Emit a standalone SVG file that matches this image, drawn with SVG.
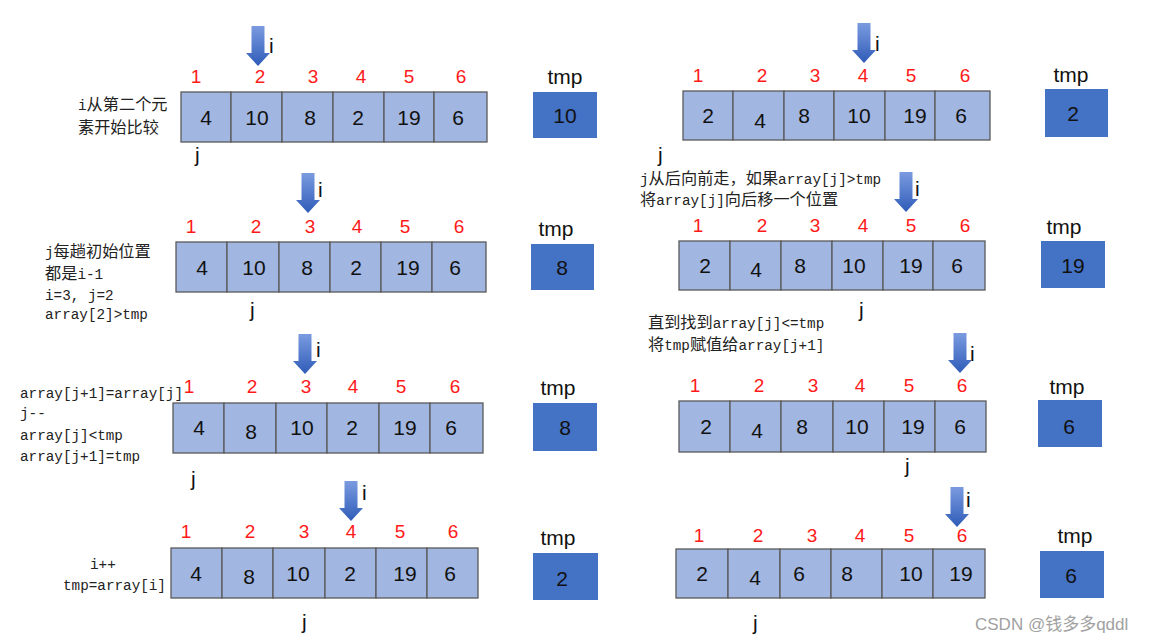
<svg xmlns="http://www.w3.org/2000/svg" width="1155" height="642" viewBox="0 0 1155 642">
<defs>
<linearGradient id="ag" x1="0" y1="0" x2="0" y2="1">
<stop offset="0" stop-color="#7b9be0"/>
<stop offset="1" stop-color="#2f5cb8"/>
</linearGradient>
<path id="darr" d="M-6.5,-40 H6.5 V-13 H12 L0,0 L-12,-13 H-6.5 Z" fill="url(#ag)"/>
</defs>
<style>
.cell{fill:#a1b6e0;stroke:#5a5a5a;stroke-width:1.3}
.tbox{fill:#4472c4}
.val{font-family:"Liberation Sans","Noto Sans",sans-serif;font-size:21px;fill:#111;text-anchor:middle}
.idx{font-family:"Liberation Sans","Noto Sans",sans-serif;font-size:19px;fill:#ff1a1a;text-anchor:middle}
.lbl{font-family:"Liberation Sans","Noto Sans",sans-serif;font-size:21px;fill:#111;text-anchor:middle}
.ptr{font-family:"Liberation Sans","Noto Sans",sans-serif;font-size:21px;fill:#111}
.note{font-family:"Liberation Mono","Noto Sans CJK SC",monospace;font-size:14.3px;fill:#222}
.cjk{font-family:"Noto Sans CJK SC",sans-serif;font-size:16.2px}
.wm{font-family:"Liberation Sans","Noto Sans CJK SC",sans-serif;font-size:17px;fill:#8a8a8a;opacity:0.8}
</style>
<rect width="1155" height="642" fill="#ffffff"/>

<g id="connectors">
<use href="#darr" x="258" y="66"/>
<use href="#darr" x="308" y="213"/>
<use href="#darr" x="305" y="374"/>
<use href="#darr" x="351" y="521"/>
<use href="#darr" x="864" y="63"/>
<use href="#darr" x="906" y="212"/>
<use href="#darr" x="960" y="373"/>
<use href="#darr" x="957" y="527"/>
</g>

<g id="step-L1">
<text class="ptr" x="269" y="53">i</text>
<g class="idx-row"><text class="idx" x="196" y="83">1</text><text class="idx" x="260" y="83">2</text><text class="idx" x="313" y="83">3</text><text class="idx" x="361" y="83">4</text><text class="idx" x="409" y="83">5</text><text class="idx" x="461" y="83">6</text></g>
<g id="arr-L1">
<rect class="cell" x="181" y="92" width="50" height="50"/><rect class="cell" x="231" y="92" width="51" height="50"/><rect class="cell" x="282" y="92" width="51" height="50"/><rect class="cell" x="333" y="92" width="51" height="50"/><rect class="cell" x="384" y="92" width="50" height="50"/><rect class="cell" x="434" y="92" width="53" height="50"/>
<text class="val" x="206" y="125">4</text><text class="val" x="257" y="125">10</text><text class="val" x="310" y="125">8</text><text class="val" x="358" y="125">2</text><text class="val" x="409" y="125">19</text><text class="val" x="458" y="125">6</text>
</g>
<g id="tmp-L1"><text class="lbl" x="565" y="84">tmp</text><rect class="tbox" x="533" y="92" width="64" height="46"/><text class="val" x="565" y="123">10</text></g>
<text class="ptr" x="195" y="162">j</text>
<text class="note" x="78" y="110">i<tspan class="cjk">从第二个元</tspan></text>
<text class="note" x="78" y="133"><tspan class="cjk">素开始比较</tspan></text>
</g>

<g id="step-L2">
<text class="ptr" x="318" y="197">i</text>
<g class="idx-row"><text class="idx" x="191" y="233">1</text><text class="idx" x="256" y="233">2</text><text class="idx" x="310" y="233">3</text><text class="idx" x="357" y="233">4</text><text class="idx" x="405" y="233">5</text><text class="idx" x="459" y="233">6</text></g>
<g id="arr-L2">
<rect class="cell" x="176" y="242" width="51" height="50"/><rect class="cell" x="227" y="242" width="52" height="50"/><rect class="cell" x="279" y="242" width="51" height="50"/><rect class="cell" x="330" y="242" width="51" height="50"/><rect class="cell" x="381" y="242" width="51" height="50"/><rect class="cell" x="432" y="242" width="54" height="50"/>
<text class="val" x="202" y="275">4</text><text class="val" x="254" y="275">10</text><text class="val" x="307" y="275">8</text><text class="val" x="356" y="275">2</text><text class="val" x="408" y="275">19</text><text class="val" x="455" y="275">6</text>
</g>
<g id="tmp-L2"><text class="lbl" x="556" y="236">tmp</text><rect class="tbox" x="531" y="244" width="63" height="46"/><text class="val" x="562" y="275">8</text></g>
<text class="ptr" x="250" y="317">j</text>
<text class="note" x="45" y="257">j<tspan class="cjk">每趟初始位置</tspan></text>
<text class="note" x="45" y="279"><tspan class="cjk">都是</tspan>i-1</text>
<text class="note" x="45" y="300">i=3, j=2</text>
<text class="note" x="45" y="319">array[2]&gt;tmp</text>
</g>

<g id="step-L3">
<text class="ptr" x="316" y="357">i</text>
<g class="idx-row"><text class="idx" x="189" y="393">1</text><text class="idx" x="252" y="393">2</text><text class="idx" x="306" y="393">3</text><text class="idx" x="353" y="393">4</text><text class="idx" x="401" y="393">5</text><text class="idx" x="455" y="393">6</text></g>
<g id="arr-L3">
<rect class="cell" x="173" y="403" width="51" height="50"/><rect class="cell" x="224" y="403" width="52" height="50"/><rect class="cell" x="276" y="403" width="51" height="50"/><rect class="cell" x="327" y="403" width="52" height="50"/><rect class="cell" x="379" y="403" width="51" height="50"/><rect class="cell" x="430" y="403" width="53" height="50"/>
<text class="val" x="199" y="435">4</text><text class="val" x="251" y="439">8</text><text class="val" x="302" y="435">10</text><text class="val" x="352" y="435">2</text><text class="val" x="405" y="435">19</text><text class="val" x="451" y="435">6</text>
</g>
<g id="tmp-L3"><text class="lbl" x="558" y="395">tmp</text><rect class="tbox" x="533" y="403" width="64" height="48"/><text class="val" x="565" y="435">8</text></g>
<text class="ptr" x="191" y="486">j</text>
<text class="note" x="20" y="398">array[j+1]=array[j]</text>
<text class="note" x="20" y="418">j--</text>
<text class="note" x="20" y="440">array[j]&lt;tmp</text>
<text class="note" x="20" y="461">array[j+1]=tmp</text>
</g>

<g id="step-L4">
<text class="ptr" x="362" y="500">i</text>
<g class="idx-row"><text class="idx" x="186" y="538">1</text><text class="idx" x="250" y="538">2</text><text class="idx" x="304" y="538">3</text><text class="idx" x="351" y="538">4</text><text class="idx" x="400" y="538">5</text><text class="idx" x="453" y="538">6</text></g>
<g id="arr-L4">
<rect class="cell" x="171" y="548" width="51" height="50"/><rect class="cell" x="222" y="548" width="51" height="50"/><rect class="cell" x="273" y="548" width="52" height="50"/><rect class="cell" x="325" y="548" width="51" height="50"/><rect class="cell" x="376" y="548" width="51" height="50"/><rect class="cell" x="427" y="548" width="51" height="50"/>
<text class="val" x="196" y="581">4</text><text class="val" x="249" y="584">8</text><text class="val" x="298" y="581">10</text><text class="val" x="350" y="581">2</text><text class="val" x="405" y="581">19</text><text class="val" x="450" y="581">6</text>
</g>
<g id="tmp-L4"><text class="lbl" x="558" y="545">tmp</text><rect class="tbox" x="533" y="553" width="65" height="47"/><text class="val" x="562" y="586">2</text></g>
<text class="ptr" x="302" y="629">j</text>
<text class="note" x="90" y="569">i++</text>
<text class="note" x="63" y="590">tmp=array[i]</text>
</g>

<g id="step-R1">
<text class="ptr" x="875" y="51">i</text>
<g class="idx-row"><text class="idx" x="698" y="82">1</text><text class="idx" x="762" y="82">2</text><text class="idx" x="815" y="82">3</text><text class="idx" x="863" y="82">4</text><text class="idx" x="911" y="82">5</text><text class="idx" x="965" y="82">6</text></g>
<g id="arr-R1">
<rect class="cell" x="683" y="91" width="50" height="49"/><rect class="cell" x="733" y="91" width="51" height="49"/><rect class="cell" x="784" y="91" width="50" height="49"/><rect class="cell" x="834" y="91" width="51" height="49"/><rect class="cell" x="885" y="91" width="50" height="49"/><rect class="cell" x="935" y="91" width="55" height="49"/>
<text class="val" x="708" y="123">2</text><text class="val" x="760" y="128">4</text><text class="val" x="804" y="123">8</text><text class="val" x="859" y="123">10</text><text class="val" x="915" y="123">19</text><text class="val" x="961" y="123">6</text>
</g>
<g id="tmp-R1"><text class="lbl" x="1071" y="82">tmp</text><rect class="tbox" x="1045" y="89" width="63" height="48"/><text class="val" x="1073" y="121">2</text></g>
<text class="ptr" x="658" y="162">j</text>
<text class="note" x="640" y="184">j<tspan class="cjk">从后向前走，如果</tspan>array[j]&gt;tmp</text>
<text class="note" x="640" y="205"><tspan class="cjk">将</tspan>array[j]<tspan class="cjk">向后移一个位置</tspan></text>
</g>

<g id="step-R2">
<text class="ptr" x="915" y="196">i</text>
<g class="idx-row"><text class="idx" x="698" y="232">1</text><text class="idx" x="762" y="232">2</text><text class="idx" x="815" y="232">3</text><text class="idx" x="863" y="232">4</text><text class="idx" x="911" y="232">5</text><text class="idx" x="965" y="232">6</text></g>
<g id="arr-R2">
<rect class="cell" x="679" y="241" width="51" height="49"/><rect class="cell" x="730" y="241" width="51" height="49"/><rect class="cell" x="781" y="241" width="51" height="49"/><rect class="cell" x="832" y="241" width="51" height="49"/><rect class="cell" x="883" y="241" width="50" height="49"/><rect class="cell" x="933" y="241" width="52" height="49"/>
<text class="val" x="705" y="273">2</text><text class="val" x="756" y="277">4</text><text class="val" x="800" y="273">8</text><text class="val" x="854" y="273">10</text><text class="val" x="911" y="273">19</text><text class="val" x="957" y="273">6</text>
</g>
<g id="tmp-R2"><text class="lbl" x="1064" y="234">tmp</text><rect class="tbox" x="1041" y="241" width="64" height="47"/><text class="val" x="1073" y="273">19</text></g>
<text class="ptr" x="859" y="317">j</text>
</g>

<g id="step-R3">
<text class="ptr" x="970" y="361">i</text>
<g class="idx-row"><text class="idx" x="695" y="392">1</text><text class="idx" x="759" y="392">2</text><text class="idx" x="813" y="392">3</text><text class="idx" x="860" y="392">4</text><text class="idx" x="909" y="392">5</text><text class="idx" x="962" y="392">6</text></g>
<g id="arr-R3">
<rect class="cell" x="679" y="401" width="51" height="51"/><rect class="cell" x="730" y="401" width="51" height="51"/><rect class="cell" x="781" y="401" width="52" height="51"/><rect class="cell" x="833" y="401" width="51" height="51"/><rect class="cell" x="884" y="401" width="51" height="51"/><rect class="cell" x="935" y="401" width="51" height="51"/>
<text class="val" x="706" y="434">2</text><text class="val" x="757" y="438">4</text><text class="val" x="802" y="434">8</text><text class="val" x="857" y="434">10</text><text class="val" x="913" y="434">19</text><text class="val" x="960" y="434">6</text>
</g>
<g id="tmp-R3"><text class="lbl" x="1067" y="394">tmp</text><rect class="tbox" x="1038" y="400" width="64" height="47"/><text class="val" x="1069" y="434">6</text></g>
<text class="ptr" x="905" y="473">j</text>
<text class="note" x="648" y="328"><tspan class="cjk">直到找到</tspan>array[j]&lt;=tmp</text>
<text class="note" x="648" y="350"><tspan class="cjk">将</tspan>tmp<tspan class="cjk">赋值给</tspan>array[j+1]</text>
</g>

<g id="step-R4">
<text class="ptr" x="966" y="507">i</text>
<g class="idx-row"><text class="idx" x="699" y="542">1</text><text class="idx" x="758" y="542">2</text><text class="idx" x="812" y="542">3</text><text class="idx" x="860" y="542">4</text><text class="idx" x="909" y="542">5</text><text class="idx" x="962" y="542">6</text></g>
<g id="arr-R4">
<rect class="cell" x="676" y="549" width="52" height="49"/><rect class="cell" x="728" y="549" width="52" height="49"/><rect class="cell" x="780" y="549" width="51" height="49"/><rect class="cell" x="831" y="549" width="51" height="49"/><rect class="cell" x="882" y="549" width="51" height="49"/><rect class="cell" x="933" y="549" width="52" height="49"/>
<text class="val" x="702" y="581">2</text><text class="val" x="755" y="585">4</text><text class="val" x="799" y="581">6</text><text class="val" x="847" y="581">8</text><text class="val" x="911" y="581">10</text><text class="val" x="961" y="581">19</text>
</g>
<g id="tmp-R4"><text class="lbl" x="1075" y="543">tmp</text><rect class="tbox" x="1040" y="551" width="64" height="47"/><text class="val" x="1071" y="583">6</text></g>
<text class="ptr" x="753" y="630">j</text>
</g>

<text class="wm" x="975" y="630">CSDN @钱多多qddl</text>
</svg>
